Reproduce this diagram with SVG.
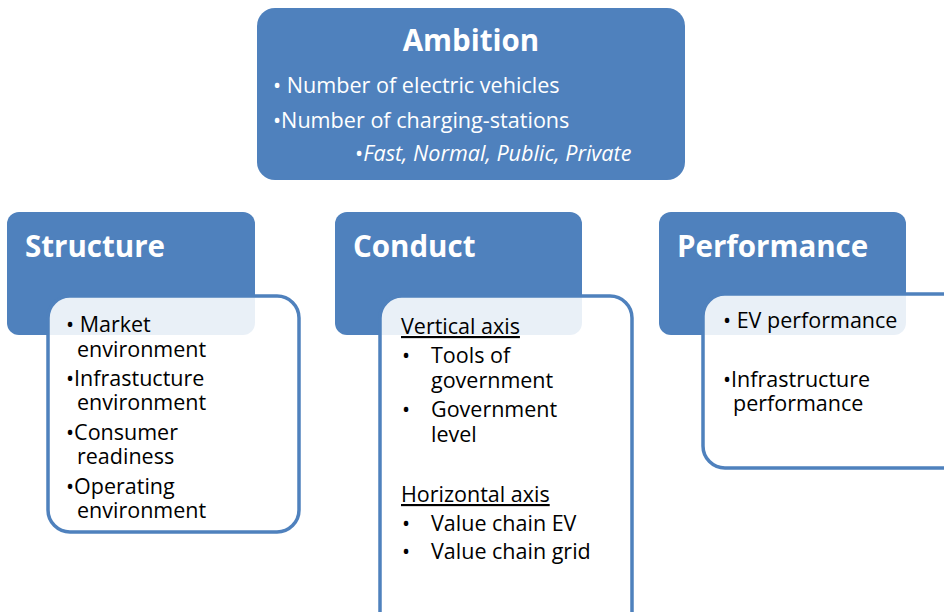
<svg xmlns="http://www.w3.org/2000/svg" width="944" height="612" viewBox="0 0 944 612">
  <style>
    .head { fill: #4F81BD; }
    .panel { fill: #FFFFFF; fill-opacity: 0.88; stroke: #4F81BD; stroke-width: 3.5; }
    .title { font-family: "Open Sans", "DejaVu Sans", sans-serif; font-weight: bold; font-size: 29.5px; fill: #FFFFFF; }
    .wt { font-family: "Open Sans", "DejaVu Sans", sans-serif; font-size: 21.6px; fill: #FFFFFF; }
    .bt { font-family: "Open Sans", "DejaVu Sans", sans-serif; font-size: 21.5px; fill: #000000; }
  </style>
  <rect width="944" height="612" fill="#FFFFFF"/>

  <!-- Ambition -->
  <g id="ambition">
    <rect class="head" x="257" y="8" width="428" height="172" rx="18"/>
    <text class="title" x="471" y="51" font-size="30.5" text-anchor="middle">Ambition</text>
    <text class="wt" x="273" y="93">• Number of electric vehicles</text>
    <text class="wt" x="273" y="128">•Number of charging-stations</text>
    <text class="wt" x="355" y="161" font-size="18.4"><tspan>•</tspan><tspan font-style="italic">Fast, Normal, Public, Private</tspan></text>
  </g>

  <!-- Structure -->
  <g id="structure">
    <rect class="head" x="7" y="212" width="248" height="123" rx="12"/>
    <text class="title" x="25" y="257" font-size="29">Structure</text>
    <rect class="panel" x="48" y="296" width="251" height="236" rx="22"/>
    <text class="bt"><tspan x="66" y="332">• Market</tspan><tspan x="77" y="357">environment</tspan></text>
    <text class="bt"><tspan x="66" y="386">•Infrastucture</tspan><tspan x="77" y="410">environment</tspan></text>
    <text class="bt"><tspan x="66" y="440">•Consumer</tspan><tspan x="77" y="464">readiness</tspan></text>
    <text class="bt"><tspan x="66" y="494">•Operating</tspan><tspan x="77" y="518">environment</tspan></text>
  </g>

  <!-- Conduct -->
  <g id="conduct">
    <rect class="head" x="335" y="212" width="247" height="123" rx="12"/>
    <text class="title" x="353" y="257">Conduct</text>
    <rect class="panel" x="380" y="296" width="252" height="340" rx="22"/>
    <text class="bt" x="401" y="334" text-decoration="underline">Vertical axis</text>
    <text class="bt"><tspan x="402" y="363">•</tspan><tspan x="431" y="363">Tools of</tspan><tspan x="431" y="388">government</tspan></text>
    <text class="bt"><tspan x="402" y="417">•</tspan><tspan x="431" y="417">Government</tspan><tspan x="431" y="442">level</tspan></text>
    <text class="bt" x="401" y="502" text-decoration="underline">Horizontal axis</text>
    <text class="bt"><tspan x="402" y="531">•</tspan><tspan x="431" y="531">Value chain EV</tspan></text>
    <text class="bt"><tspan x="402" y="559">•</tspan><tspan x="431" y="559">Value chain grid</tspan></text>
  </g>

  <!-- Performance -->
  <g id="performance">
    <rect class="head" x="659" y="212" width="247" height="123" rx="12"/>
    <text class="title" x="677" y="257">Performance</text>
    <rect class="panel" x="703" y="294" width="262" height="174" rx="22"/>
    <text class="bt" x="723" y="328">• EV performance</text>
    <text class="bt"><tspan x="723" y="387">•Infrastructure</tspan><tspan x="733" y="411">performance</tspan></text>
  </g>
</svg>
